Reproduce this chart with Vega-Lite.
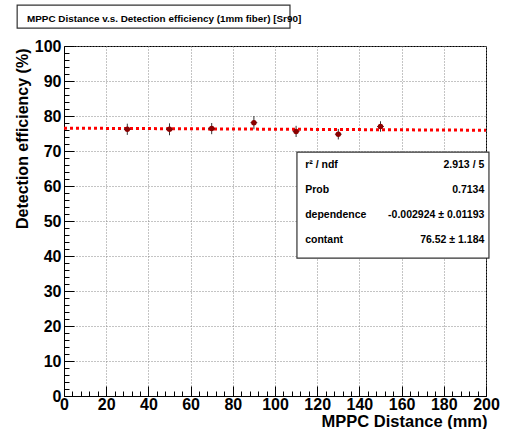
{
  "$schema": "https://vega.github.io/schema/vega-lite/v6.json",
  "width": 422,
  "height": 350,
  "autosize": {"type": "none"},
  "padding": {"left": 64, "top": 46, "right": 22, "bottom": 33},
  "background": "white",
  "title": {
    "text": "MPPC Distance v.s. Detection efficiency (1mm fiber) [Sr90]",
    "anchor": "start",
    "frame": "group",
    "dx": -37,
    "offset": -27,
    "baseline": "alphabetic",
    "font": "Liberation Sans",
    "fontSize": 9.9,
    "fontWeight": "bold",
    "color": "black"
  },
  "config": {
    "view": {"stroke": "black", "strokeWidth": 1},
    "axis": {
      "labelFont": "Liberation Sans",
      "titleFont": "Liberation Sans",
      "labelFontWeight": "bold",
      "titleFontWeight": "bold",
      "labelColor": "black",
      "titleColor": "black",
      "domainColor": "black",
      "tickColor": "black"
    }
  },
  "datasets": {
    "pts": [
      {"distance": 30, "eff": 76.2, "err": 1.6},
      {"distance": 50, "eff": 76.2, "err": 1.7},
      {"distance": 70, "eff": 76.4, "err": 1.6},
      {"distance": 90, "eff": 78.1, "err": 1.9},
      {"distance": 110, "eff": 75.6, "err": 1.6},
      {"distance": 130, "eff": 74.8, "err": 1.5},
      {"distance": 150, "eff": 77.0, "err": 1.5}
    ],
    "fit": [
      {"distance": 0, "eff": 76.52},
      {"distance": 200, "eff": 75.935}
    ],
    "stats": [
      {"label": "r² / ndf", "value": "2.913 / 5", "y": 66.0},
      {"label": "Prob", "value": "0.7134", "y": 58.9},
      {"label": "dependence", "value": "-0.002924 ± 0.01193", "y": 51.7},
      {"label": "contant", "value": "76.52 ± 1.184", "y": 44.6}
    ],
    "boxes": [
      {"x1": 110.4, "x2": 201.4, "y1": 69.7, "y2": 39.4, "kind": "stats"},
      {"x1": -22.2, "x2": 107.1, "y1": 111.7, "y2": 105.1, "kind": "title"}
    ]
  },
  "resolve": {"axis": {"x": "independent", "y": "independent"}},
  "layer": [
    {
      "data": {"name": "pts"},
      "mark": {"type": "point", "opacity": 0},
      "encoding": {
        "x": {
          "field": "distance", "type": "quantitative",
          "scale": {"domain": [0, 200], "nice": false, "zero": false},
          "axis": {
            "orient": "bottom",
            "title": "MPPC Distance (mm)",
            "values": [0, 20, 40, 60, 80, 100, 120, 140, 160, 180, 200],
            "tickSize": -10,
            "labelPadding": 10,
            "labelFontSize": 16,
            "labelFlush": false,
            "labelOverlap": false,
            "grid": true,
            "gridDash": [1, 2],
            "gridColor": "#888888",
            "gridOpacity": 1,
            "titleFontSize": 16.5,
            "titleAnchor": "end",
            "titleAlign": "right",
            "titleBaseline": "bottom",
            "titleX": 423,
            "titleY": 33.5
          }
        },
        "y": {
          "field": "eff", "type": "quantitative",
          "scale": {"domain": [0, 100], "nice": false, "zero": false},
          "axis": {
            "orient": "left",
            "title": "Detection efficiency  (%)",
            "values": [0, 10, 20, 30, 40, 50, 60, 70, 80, 90, 100],
            "tickSize": -10,
            "labelPadding": 13,
            "labelFontSize": 16,
            "labelFlush": false,
            "labelOverlap": false,
            "grid": true,
            "gridDash": [1, 2],
            "gridColor": "#888888",
            "gridOpacity": 1,
            "titleFontSize": 16,
            "titleAnchor": "end",
            "titleAlign": "right",
            "titleBaseline": "middle",
            "titleAngle": 270,
            "titleX": -42,
            "titleY": 2
          }
        }
      }
    },
    {
      "data": {"name": "pts"},
      "mark": {"type": "point", "opacity": 0},
      "encoding": {
        "x": {
          "field": "distance", "type": "quantitative",
          "axis": {
            "orient": "bottom",
            "title": null,
            "labels": false,
            "domain": false,
            "values": [4, 8, 12, 16, 24, 28, 32, 36, 44, 48, 52, 56, 64, 68, 72, 76, 84, 88, 92, 96, 104, 108, 112, 116, 124, 128, 132, 136, 144, 148, 152, 156, 164, 168, 172, 176, 184, 188, 192, 196],
            "tickSize": -5,
            "grid": false
          }
        },
        "y": {
          "field": "eff", "type": "quantitative",
          "axis": {
            "orient": "left",
            "title": null,
            "labels": false,
            "domain": false,
            "values": [2, 4, 6, 8, 12, 14, 16, 18, 22, 24, 26, 28, 32, 34, 36, 38, 42, 44, 46, 48, 52, 54, 56, 58, 62, 64, 66, 68, 72, 74, 76, 78, 82, 84, 86, 88, 92, 94, 96, 98],
            "tickSize": -5,
            "grid": false
          }
        }
      }
    },
    {
      "data": {"name": "fit"},
      "mark": {"type": "line", "color": "#ff0000", "strokeWidth": 3, "strokeDash": [3, 3]},
      "encoding": {
        "x": {"field": "distance", "type": "quantitative", "axis": null},
        "y": {"field": "eff", "type": "quantitative", "axis": null}
      }
    },
    {
      "data": {"name": "pts"},
      "transform": [
        {"calculate": "datum.eff - datum.err", "as": "lo"},
        {"calculate": "datum.eff + datum.err", "as": "hi"}
      ],
      "mark": {"type": "rule", "color": "#333333", "strokeWidth": 1},
      "encoding": {
        "x": {"field": "distance", "type": "quantitative", "axis": null},
        "y": {"field": "lo", "type": "quantitative", "axis": null},
        "y2": {"field": "hi"}
      }
    },
    {
      "data": {"name": "pts"},
      "transform": [
        {"calculate": "datum.distance - 1.6", "as": "xlo"},
        {"calculate": "datum.distance + 1.6", "as": "xhi"}
      ],
      "mark": {"type": "rule", "color": "#333333", "strokeWidth": 1},
      "encoding": {
        "x": {"field": "xlo", "type": "quantitative", "axis": null},
        "x2": {"field": "xhi"},
        "y": {"field": "eff", "type": "quantitative", "axis": null}
      }
    },
    {
      "data": {"name": "pts"},
      "mark": {"type": "point", "shape": "circle", "filled": true, "color": "#8b0000", "size": 30, "opacity": 1},
      "encoding": {
        "x": {"field": "distance", "type": "quantitative", "axis": null},
        "y": {"field": "eff", "type": "quantitative", "axis": null}
      }
    },
    {
      "data": {"name": "boxes"},
      "mark": {"type": "rect", "fill": "white", "stroke": "#333333", "strokeWidth": 1.2},
      "encoding": {
        "x": {"field": "x1", "type": "quantitative", "axis": null},
        "x2": {"field": "x2"},
        "y": {"field": "y1", "type": "quantitative", "axis": null},
        "y2": {"field": "y2"}
      }
    },
    {
      "data": {"name": "stats"},
      "transform": [{"calculate": "114.3", "as": "lx"}],
      "mark": {"type": "text", "align": "left", "baseline": "middle", "font": "Liberation Sans", "fontSize": 10.5, "fontWeight": "bold", "color": "black"},
      "encoding": {
        "x": {"field": "lx", "type": "quantitative", "axis": null},
        "y": {"field": "y", "type": "quantitative", "axis": null},
        "text": {"field": "label"}
      }
    },
    {
      "data": {"name": "stats"},
      "transform": [{"calculate": "199.2", "as": "rx"}],
      "mark": {"type": "text", "align": "right", "baseline": "middle", "font": "Liberation Sans", "fontSize": 10.5, "fontWeight": "bold", "color": "black"},
      "encoding": {
        "x": {"field": "rx", "type": "quantitative", "axis": null},
        "y": {"field": "y", "type": "quantitative", "axis": null},
        "text": {"field": "value"}
      }
    }
  ]
}
